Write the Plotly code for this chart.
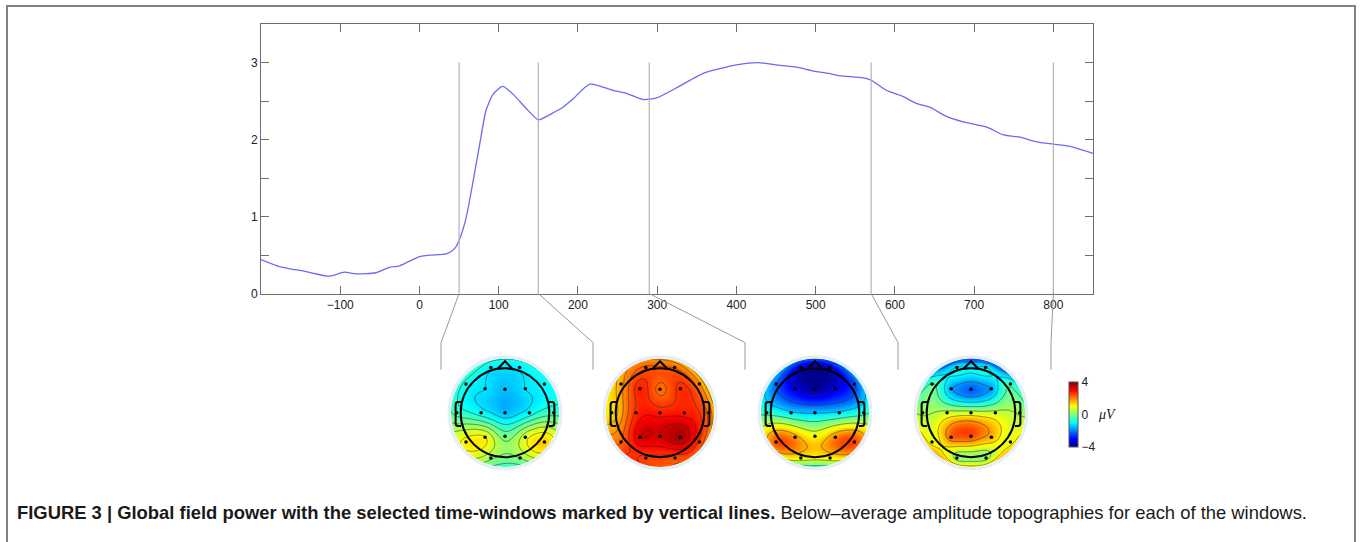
import numpy as np
import plotly.graph_objects as go

W, H_REF = 1360, 542
H = 550   # canvas height (compensates the vertical resampling of the snapshot)

# ---------------- data ----------------
gfp_time = [-200, -177, -143, -114, -95, -80, -55, -38, -25, 0, 13, 34, 44, 50, 59, 67, 76, 84, 93,
            105, 118, 135, 149, 152, 181, 194, 215, 244, 261, 282, 299, 324, 358, 379, 400, 427, 450,
            476, 497, 516, 530, 560, 570, 589, 610, 627, 644, 665, 686, 716, 737, 758, 779, 800, 821, 850]
gfp_value = [0.44, 0.35, 0.285, 0.225, 0.277, 0.255, 0.27, 0.34, 0.36, 0.48, 0.50, 0.515, 0.58, 0.69, 0.99,
             1.42, 1.94, 2.38, 2.59, 2.69, 2.59, 2.40, 2.26, 2.26, 2.42, 2.53, 2.72, 2.64, 2.60, 2.52, 2.54,
             2.67, 2.86, 2.92, 2.97, 3.00, 2.97, 2.94, 2.89, 2.86, 2.83, 2.80, 2.77, 2.64, 2.56, 2.47, 2.42,
             2.30, 2.23, 2.16, 2.06, 2.03, 1.97, 1.94, 1.91, 1.82]

window_bounds = [50, 150, 290, 570, 800]

x_tick_vals = [-100, 0, 100, 200, 300, 400, 500, 600, 700, 800]
x_tick_text = ["−100", "0", "100", "200", "300", "400", "500", "600", "700", "800"]
y_tick_vals = [0, 0.5, 1, 1.5, 2, 2.5, 3]
y_tick_text = ["0", "", "1", "", "2", "", "3"]

electrode_names = ["Fp1", "Fp2", "F7", "F3", "Fz", "F4", "F8", "T7", "C3", "Cz", "C4", "T8",
                   "P7", "P3", "Pz", "P4", "P8", "O1", "O2"]
electrode_x = [-0.32, 0.33, -0.88, -0.45, 0.0, 0.46, 0.89, -1.09, -0.54, 0.0, 0.55, 1.10,
               -0.88, -0.45, 0.0, 0.46, 0.89, -0.32, 0.34]
electrode_y = [1.02, 1.02, 0.65, 0.54, 0.53, 0.54, 0.65, 0.0, 0.0, 0.0, 0.0, 0.0,
               -0.66, -0.55, -0.53, -0.55, -0.66, -1.02, -1.02]

topo_w1 = [-1.1, -1.1, -0.9, -1.2, -1.5, -1.2, -1.0, -0.5, -1.0, -1.5, -1.0, -0.5,
           1.1, 1.0, -0.1, 0.8, 1.4, 0.2, 0.1]
topo_w2 = [2.3, 2.2, 1.7, 2.8, 2.1, 2.7, 1.9, 1.2, 2.7, 2.8, 2.8, 2.1,
           2.2, 3.3, 3.3, 3.7, 2.5, 2.5, 2.4]
topo_w3 = [-3.4, -3.4, -2.2, -3.2, -3.8, -3.2, -2.4, -0.6, -1.2, -1.4, -1.2, -0.6,
           2.4, 1.8, 1.0, 2.0, 2.5, 1.0, 1.0]
topo_w4 = [-1.0, -1.0, -0.3, -1.7, -2.3, -1.7, -0.5, 0.3, 0.6, 0.7, 0.6, 0.3,
           0.9, 2.2, 2.4, 1.6, 0.9, 0.2, 0.2]
topo_maps = [topo_w1, topo_w2, topo_w3, topo_w4]

cbar_min, cbar_max = -4, 4
caption_bold = "FIGURE 3 | Global field power with the selected time-windows marked by vertical lines."
caption_rest = " Below–average amplitude topographies for each of the windows."

# ---------------- layout geometry (reference pixels) ----------------
def px(x):
    return x / W

def py(y):
    return 1 - y / H_REF

main_left, main_right, main_top, main_bottom = 261, 1093, 24, 293
x_range = [-200, 850]
y_range = [0, 3.5]

topo_centers = [(505, 412), (660, 412), (815, 412), (971, 412)]
head_px = 44.3           # pixels per head radius
topo_half = 1.35         # axis half range in head radii
grid_half = 1.28
disc_r = 1.22
connector_kink_x = [441, 593, 745, 898, 1051]
kink_y, end_y = 342, 369

jet = [[0.0, "#000090"], [0.125, "#0000ff"], [0.375, "#00ffff"],
       [0.625, "#ffff00"], [0.875, "#ff0000"], [1.0, "#800000"]]

FONT = "Liberation Sans, Arial, Helvetica, sans-serif"

fig = go.Figure()

# ---------------- main GFP plot ----------------
fig.add_trace(go.Scatter(x=gfp_time, y=gfp_value, mode="lines",
                         line=dict(color="#6a6af2", width=1.3, shape="spline", smoothing=0.6),
                         hoverinfo="skip", showlegend=False, xaxis="x", yaxis="y"))

axis_common = dict(showline=True, linecolor="#6e6e6e", linewidth=1, mirror="ticks",
                   ticks="inside", ticklen=8, tickcolor="#6e6e6e", showgrid=False, zeroline=False,
                   tickfont=dict(family=FONT, size=12, color="#222"))
layout = dict(
    width=W, height=H, margin=dict(l=0, r=0, t=0, b=0),
    paper_bgcolor="white", plot_bgcolor="white", showlegend=False,
    xaxis=dict(domain=[px(main_left), px(main_right)], range=x_range, tickvals=x_tick_vals,
               ticktext=x_tick_text, anchor="y", **axis_common),
    yaxis=dict(domain=[py(main_bottom), py(main_top)], range=y_range, tickvals=y_tick_vals,
               ticktext=y_tick_text, anchor="x", **axis_common),
)

shapes = []
# outer frame
shapes.append(dict(type="rect", xref="paper", yref="paper", x0=px(7), x1=px(1355), y0=py(560), y1=py(6),
                   line=dict(color="#808080", width=2), layer="below"))

def t_to_px(t):
    return main_left + (t - x_range[0]) / (x_range[1] - x_range[0]) * (main_right - main_left)

for t, kx in zip(window_bounds, connector_kink_x):
    shapes.append(dict(type="line", xref="x", yref="y", x0=t, x1=t, y0=0, y1=3,
                       line=dict(color="#b4b4b4", width=1.2)))
    bx = t_to_px(t)
    shapes.append(dict(type="path", xref="paper", yref="paper",
                       path=f"M {px(bx)},{py(main_bottom)} L {px(kx)},{py(kink_y)} L {px(kx)},{py(end_y)}",
                       line=dict(color="#9a9a9a", width=1)))

# ---------------- topographies ----------------
ex = np.array(electrode_x)
ey = np.array(electrode_y)

def green(r):
    with np.errstate(divide="ignore", invalid="ignore"):
        g = r ** 2 * (np.log(r) - 1)
    g[r == 0] = 0
    return g

d = np.hypot(ex[:, None] - ex[None, :], ey[:, None] - ey[None, :])
G = green(d)
grid = np.linspace(-grid_half, grid_half, 171)
GX, GY = np.meshgrid(grid, grid)

theta = np.linspace(0, -2 * np.pi, 121)
circ = " ".join(f"L {disc_r*np.cos(a):.4f},{disc_r*np.sin(a):.4f}" for a in theta[1:])
mask_path = (f"M -3,-3 L 3,-3 L 3,3 L -3,3 Z M {disc_r:.4f},0 " + circ + " Z")

for i, (vals, (cx, cy)) in enumerate(zip(topo_maps, topo_centers)):
    k = i + 2
    xa, ya = f"x{k}", f"y{k}"
    w = np.linalg.solve(G, np.array(vals))
    dd = np.hypot(GX[..., None] - ex, GY[..., None] - ey)
    Z = (green(dd.reshape(-1, len(ex))) @ w).reshape(GX.shape)
    zin = Z[np.hypot(GX, GY) <= disc_r]
    lo, hi = zin.min(), zin.max()
    step = (hi - lo) / 7
    fig.add_trace(go.Contour(x=grid, y=grid, z=Z, colorscale=jet, zmin=cbar_min, zmax=cbar_max,
                             showscale=False, hoverinfo="skip",
                             contours=dict(coloring="heatmap", start=lo + step, end=hi - step * 0.5, size=step),
                             line=dict(color="rgba(40,40,40,0.75)", width=0.7),
                             xaxis=xa, yaxis=ya))
    fig.add_trace(go.Scatter(x=electrode_x, y=electrode_y, mode="markers",
                             marker=dict(color="black", size=3.5), hoverinfo="skip",
                             xaxis=xa, yaxis=ya))
    half_px = topo_half * head_px
    layout[f"xaxis{k}"] = dict(domain=[px(cx - half_px), px(cx + half_px)], range=[-topo_half, topo_half],
                               visible=False, anchor=ya)
    layout[f"yaxis{k}"] = dict(domain=[py(cy + half_px), py(cy - half_px)], range=[-topo_half, topo_half],
                               visible=False, anchor=xa)
    # white mask outside disc
    shapes.append(dict(type="path", xref=xa, yref=ya, path=mask_path, fillcolor="white",
                       line=dict(width=0), layer="above"))
    # pale rim
    rr = disc_r + 0.04
    shapes.append(dict(type="circle", xref=xa, yref=ya, x0=-rr, x1=rr, y0=-rr, y1=rr,
                       line=dict(color="#e3eef9", width=3), layer="above"))
    # head
    shapes.append(dict(type="circle", xref=xa, yref=ya, x0=-1, x1=1, y0=-1, y1=1,
                       line=dict(color="black", width=2), layer="above"))
    shapes.append(dict(type="path", xref=xa, yref=ya, path="M -0.17,0.985 L 0,1.16 L 0.17,0.985",
                       line=dict(color="black", width=2), layer="above"))
    for s in (-1, 1):
        shapes.append(dict(type="path", xref=xa, yref=ya,
                           path=(f"M {s*0.99},0.24 L {s*1.06},0.24 Q {s*1.115},0.24 {s*1.115},0.17 "
                                 f"L {s*1.115},-0.23 Q {s*1.115},-0.30 {s*1.06},-0.30 L {s*0.99},-0.30"),
                           line=dict(color="black", width=2), layer="above"))

# colour bar
fig.add_trace(go.Scatter(x=[0], y=[0], mode="markers", xaxis="x5", yaxis="y5", hoverinfo="skip",
                         marker=dict(color=[0], colorscale=jet, cmin=cbar_min, cmax=cbar_max, opacity=0,
                                     showscale=True,
                                     colorbar=dict(x=px(1069), xanchor="left", y=py(414), yanchor="middle",
                                                   thickness=9, thicknessmode="pixels", len=65, lenmode="pixels",
                                                   xpad=0, ypad=0, outlinewidth=1, outlinecolor="#555",
                                                   tickvals=[-4, 0, 4], ticktext=["−4", "0", "4"], ticks="",
                                                   tickfont=dict(family=FONT, size=12, color="#222")))))

annotations = [
    dict(xref="paper", yref="paper", x=px(1096), y=py(414), xanchor="left", yanchor="middle",
         text="<i>μV</i>", showarrow=False, font=dict(family="Liberation Serif, DejaVu Serif, serif", size=14, color="#222")),
    dict(xref="paper", yref="paper", x=px(15), y=py(512), xanchor="left", yanchor="middle",
         text=f"<b>{caption_bold}</b>{caption_rest}", showarrow=False,
         font=dict(family=FONT, size=18.4, color="#1a1a1a")),
]

layout["shapes"] = shapes
layout["annotations"] = annotations
fig.update_layout(**layout)
fig.write_html("out.html", config=dict(displayModeBar=False, responsive=False),
               post_script=("document.documentElement.style.margin='0px';"
                            "document.body.style.margin='0px';"
                            "document.documentElement.style.overflow='hidden';"
                            "document.body.style.overflow='hidden';"))
